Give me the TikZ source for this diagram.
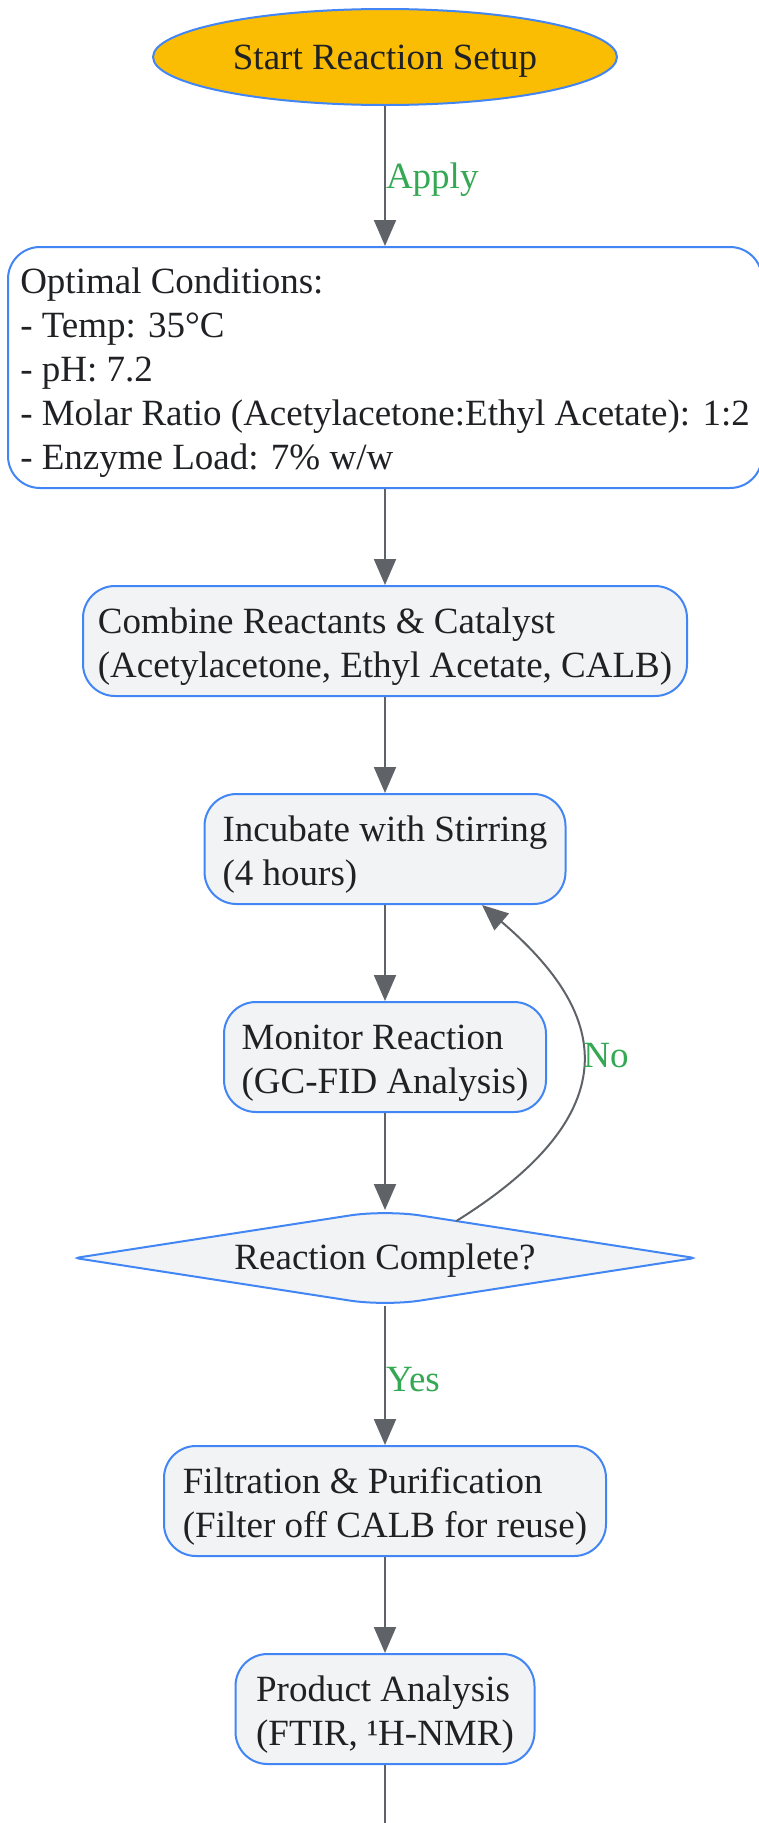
\documentclass[tikz,border=0pt]{standalone}
\usepackage{fontspec}
\setmainfont{Liberation Serif}
\usepackage{tikz}
\usetikzlibrary{positioning, shapes.geometric, arrows.meta, calc, backgrounds}
\definecolor{edgegray}{HTML}{5F6368}
\definecolor{boxblue}{HTML}{4285F4}
\definecolor{boxfill}{HTML}{F1F3F4}
\definecolor{startfill}{HTML}{FBBC04}
\definecolor{labelgreen}{HTML}{34A853}
\definecolor{textdark}{HTML}{202124}
\newcommand{\textdrop}{\rule{0pt}{36pt}}

\begin{document}
\begin{tikzpicture}[x=1pt, y=1pt,
    font=\fontsize{37}{44}\selectfont, text=textdark,
    startnode/.style={ellipse, draw=boxblue, fill=startfill, line width=2pt, minimum width=464pt, minimum height=96pt, execute at begin node=\rule{0pt}{33pt}},
    stepbox/.style={rectangle, rounded corners=32pt, draw=boxblue, fill=boxfill, line width=2pt, align=left, inner ysep=6pt, minimum height=110pt},
    decision/.style={diamond, aspect=6.8, outer sep=0pt, inner sep=2pt, minimum width=620pt, minimum height=96pt, execute at begin node=\rule{0pt}{30pt}},
    decisionline/.style={draw=boxblue, fill=boxfill, line width=2pt},
    flow/.style={draw=edgegray, line width=2pt, -{Triangle[length=26pt, width=22pt]}},
    edgelabel/.style={text=labelgreen, inner sep=0pt, yshift=-4pt},
    node distance=96pt]
  \useasboundingbox (0,0) rectangle (759,-1823);
  \node [startnode] (start) at (385,-57) {Start Reaction Setup};
  \node [stepbox, fill=white, minimum width=754pt, minimum height=241pt, below=140pt of start] (cond) {\textdrop Optimal Conditions:\\- Temp: 35°C\\- pH: 7.2\\- Molar Ratio (Acetylacetone:Ethyl Acetate): 1:2\\- Enzyme Load: 7\% w/w};
  \node [stepbox, minimum width=604pt, below=of cond] (mix) {\textdrop Combine Reactants \& Catalyst\\(Acetylacetone, Ethyl Acetate, CALB)};
  \node [stepbox, minimum width=361pt, below=of mix] (stir) {\textdrop Incubate with Stirring\\(4 hours)};
  \node [stepbox, minimum width=322pt, below=of stir] (monitor) {\textdrop Monitor Reaction\\(GC-FID Analysis)};
  \node [decision, below=97pt of monitor] (check) {Reaction Complete?};
  \node [stepbox, minimum width=442pt, below=139pt of check] (filter) {\textdrop Filtration \& Purification\\(Filter off CALB for reuse)};
  \node [stepbox, minimum width=299pt, below=96pt of filter] (analysis) {\textdrop Product Analysis\\(FTIR, ¹H-NMR)};
  \coordinate [below=70pt of analysis] (tail);

  \begin{scope}[on background layer]
    \path [decisionline] ($(check.south)!0.5!(check.west)$) [rounded corners=4pt] -- (check.west) -- ($(check.west)!0.5!(check.north)$)
      [rounded corners=35pt] -- (check.north) -- ($(check.north)!0.5!(check.east)$)
      [rounded corners=4pt] -- (check.east) -- ($(check.east)!0.5!(check.south)$)
      [rounded corners=35pt] -- (check.south) -- cycle;
  \end{scope}

  \draw [flow] (start) -- node [edgelabel, right] {Apply} (cond);
  \draw [flow] (cond) -- (mix);
  \draw [flow] (mix) -- (stir);
  \draw [flow] (stir) -- (monitor);
  \draw [flow] (monitor) -- (check);
  \draw [flow] ($(check.north)!0.23!(check.east)$) .. controls (652,-1099) and (588,-996) .. node [edgelabel, pos=0.5, right] {No} ([xshift=97pt]stir.south);
  \draw [flow] (check) -- node [edgelabel, right] {Yes} (filter);
  \draw [flow] (filter) -- (analysis);
  \draw [draw=edgegray, line width=2pt] (analysis) -- (tail);
\end{tikzpicture}
\end{document}
